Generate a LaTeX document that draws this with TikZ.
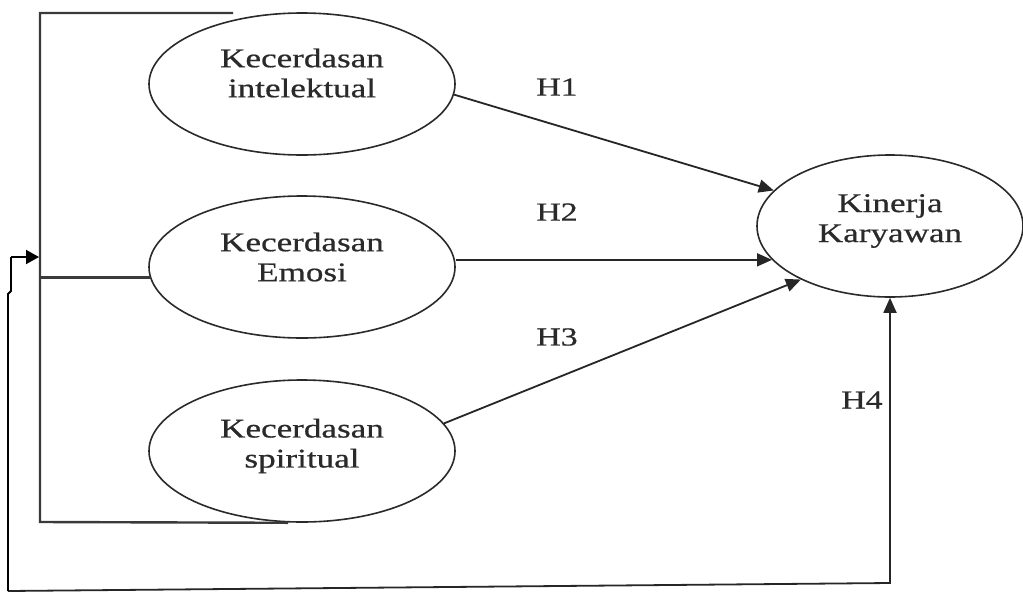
\documentclass[tikz,border=0pt]{standalone}
\usepackage{fontspec}
\setmainfont[FakeStretch=1.3,FakeBold=0.6]{Liberation Serif}
\usetikzlibrary{shapes.geometric,arrows.meta}
\definecolor{ink}{HTML}{2A2A2A}
\definecolor{linegray}{HTML}{3A3A3A}
\begin{document}
\begin{tikzpicture}[x=1pt,y=-1pt,
  ell/.style={draw=ink, line width=1.6pt, ellipse, minimum width=306pt, minimum height=142pt, inner sep=0pt},
  lbl/.style={text=ink, font=\fontsize{27}{30}\selectfont, align=center, inner sep=0pt},
  hlbl/.style={text=ink, font=\fontsize{26}{30}\selectfont, inner sep=0pt},
  conn/.style={draw=black!85, line width=1.8pt, -{Triangle[length=15pt,width=13pt]}},
  brk/.style={draw=linegray, line width=2.4pt},
  fb/.style={draw=black, line width=1.9pt}]
\useasboundingbox (0,0) rectangle (1023,592);
\fill[white] (0,0) rectangle (1023,592);

% ellipses
\node[ell] (e1) at (302,84) {};
\node[ell] (e2) at (302,267) {};
\node[ell] (e3) at (302,451) {};
\node[ell, minimum width=266pt] (k) at (890,226) {};

% texts
\node[lbl] (t1) at (302,73) {Kecerdasan\\intelektual};
\node[lbl] (t2) at (302,257) {Kecerdasan\\Emosi};
\node[lbl] (t3) at (302,446) {Kecerdasan\\spiritual};
\node[lbl] (tk) at (890,221) {Kinerja\\Karyawan};

\node[hlbl] (h1) at (557,87) {H1};
\node[hlbl] (h2) at (557,212) {H2};
\node[hlbl] (h3) at (557,337) {H3};
\node[hlbl] (h4) at (862,400) {H4};

% bracket
\coordinate (tend) at (233,13);
\coordinate (bt) at (40,13);
\coordinate (bb) at (40,522);
\draw[brk] (tend) -- (bt) -- (bb) -- ([xshift=-14pt]e3.south);
\draw[brk] (e2.184) -- (e2.184 -| bt);

% hypotheses
\draw[conn] (e1.-4.5) -- (k.163.8);
\draw[conn] (k.196.6 -| e2.east) -- (k.196.6);
\draw[conn] (e3.11.6) -- (k.211);

% feedback loop
\coordinate (f0) at (8,591);
\coordinate (c4) at (890,583);
\coordinate (j1) at (8,294);
\coordinate (j2) at (11,291);
\coordinate (j3) at (11,257);
\coordinate (arr) at (39,257);
\draw[conn] (f0) -- (c4) -- (k.south);
\draw[fb] (f0) -- (j1) -- (j2) -- (j3);
\draw[fb, -{Triangle[length=13pt,width=14pt]}] (j3) -- (arr);
\end{tikzpicture}
\end{document}
